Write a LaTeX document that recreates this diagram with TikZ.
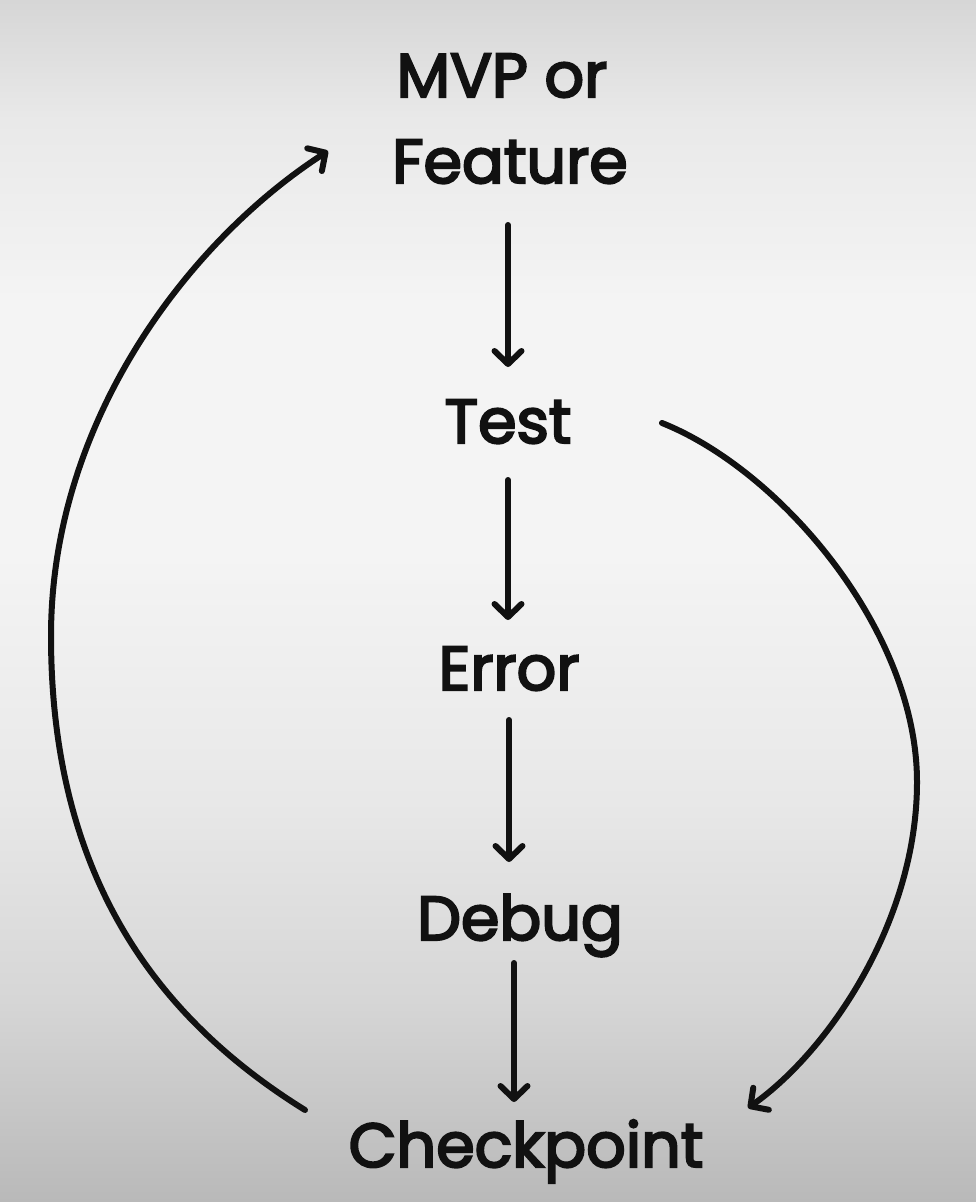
\documentclass[tikz,border=0pt]{standalone}
\usepackage{fontspec}
\setmainfont{Poppins}
\newfontfamily\handfont{Poppins}[FakeBold=3.5]
\usetikzlibrary{arrows.meta,calc}
\definecolor{bgA}{HTML}{B9B9B9}
\definecolor{bgB}{HTML}{D6D6D6}
\definecolor{bgC}{HTML}{E8E8E8}
\definecolor{bgD}{HTML}{F4F4F4}
\definecolor{bgE}{HTML}{E9E9E9}
\definecolor{bgF}{HTML}{D6D6D6}
\definecolor{ink}{HTML}{111111}
\pgfdeclareverticalshading{bgshade}{100bp}{color(0bp)=(bgA); color(25bp)=(bgA); color(33.4bp)=(bgB); color(41.7bp)=(bgC); color(52bp)=(bgD); color(62.5bp)=(bgD); color(70bp)=(bgE); color(75bp)=(bgF); color(100bp)=(bgF)}
\begin{document}
\begin{tikzpicture}[x=1pt,y=-1pt,
  lbl/.style={font=\handfont\fontsize{62}{74}\selectfont, text=ink, inner sep=0pt, outer sep=0pt, text height=46pt, text depth=14pt, anchor=base},
  arr/.style={draw=ink, line width=6pt, line cap=round, -{Straight Barb[length=13pt,width=27pt,round]}}]
\useasboundingbox (0,0) rectangle (976,1202);
\shade[shading=bgshade] (0,0) rectangle (976,1202);
\node[lbl] (mvp) at (502,97) {MVP or};
\node[lbl] (feature) at (510,183) {Feature};
\node[lbl] (test) at (508,443) {Test};
\node[lbl] (error) at (509,690) {Error};
\node[lbl] (debug) at (520,940) {Debug};
\node[lbl] (checkpoint) at (526,1167) {Checkpoint};
\draw[arr, shorten <=28pt, shorten >=30pt] (test.north |- feature.south) -- (test.north);
\draw[arr, shorten <=23pt, shorten >=24pt] (test.south) -- (test.south |- error.north);
\draw[arr, shorten <=16pt, shorten >=32pt] (error.south) -- (error.south |- debug.north);
\draw[arr, shorten <=9pt, shorten >=19pt] ([xshift=-6pt]debug.south) -- ([xshift=-6pt]debug.south |- checkpoint.north);
\draw[arr] ($(test.center)+(154,-4)$) .. controls (780,470) and (917,630) .. (917,782)
  .. controls (917,920) and (830,1050) .. ($(checkpoint.center)+(222,-43)$);
\draw[arr] ($(checkpoint.center)+(-221,-41)$) .. controls (160,1020) and (51,880) .. (51,636)
  .. controls (51,420) and (190,240) .. ($(feature.center)+(-182,-16)$);
\end{tikzpicture}
\end{document}
